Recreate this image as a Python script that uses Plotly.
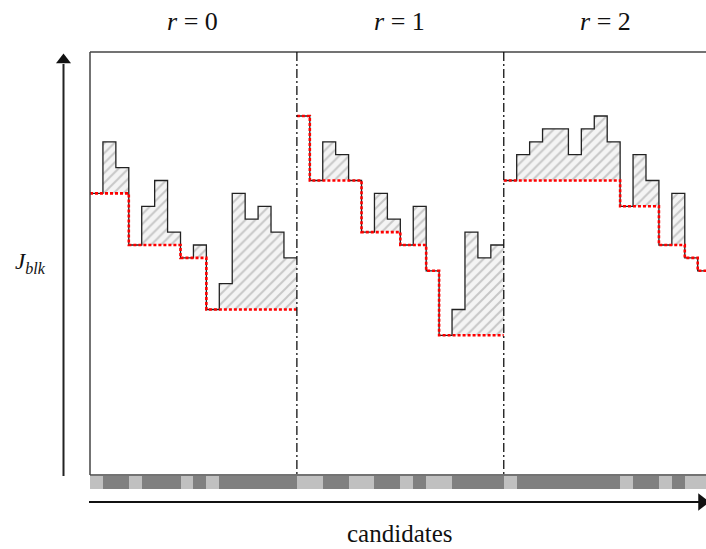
import plotly.graph_objects as go

# ---------------- data ----------------
round_labels = ["<i>r</i> = 0", "<i>r</i> = 1", "<i>r</i> = 2"]
candidates_per_round = 16
J_round0 = [24, 28, 26, 20, 23, 25, 21, 19, 20, 15, 17, 24, 22, 23, 21, 19]
J_round1 = [30, 25, 28, 27, 25, 21, 24, 22, 20, 23, 18, 13, 15, 21, 19, 20]
J_round2 = [25, 27, 28, 29, 29, 27, 29, 30, 28, 23, 27, 25, 20, 24, 19, 18]
J_rounds = [J_round0, J_round1, J_round2]
y_label = "<i>J</i><sub><i>blk</i></sub>"
x_label = "candidates"

# ---------------- geometry helpers (pixel -> data) ----------------
W, H = 706, 549
PX0, PXU = 90.0, 12.93
PY0, PYU, JREF = 116.0, 12.9, 30.0


def X(px):
    return (px - PX0) / PXU


def Y(py):
    return JREF - (py - PY0) / PYU


FONT = "Liberation Serif, Times New Roman, serif"

fig = go.Figure()

strip_colors = []
best_lines = []
for r, J in enumerate(J_rounds):
    x0 = r * candidates_per_round
    xs = list(range(x0, x0 + len(J) + 1))
    best = []
    m = None
    for v in J:
        m = v if m is None else min(m, v)
        best.append(m)
    J_ext = J + [J[-1]]
    best_ext = best + [best[-1]]
    for v, b in zip(J, best):
        strip_colors.append("#c0c0c0" if v == b else "#808080")
    fig.add_trace(go.Scatter(x=xs, y=best_ext, mode="lines",
                             line=dict(width=0, shape="hv", color="rgba(0,0,0,0)"),
                             showlegend=False, hoverinfo="skip"))
    fig.add_trace(go.Scatter(x=xs, y=J_ext, mode="lines",
                             line=dict(width=1.3, shape="hv", color="#222222"),
                             fill="tonexty", fillcolor="rgba(0,0,0,0)",
                             fillpattern=dict(shape="/", fgcolor="#999999",
                                              bgcolor="rgba(244,244,244,1)",
                                              size=7, solidity=0.28),
                             showlegend=False, hoverinfo="skip"))
    best_lines.append((xs, best_ext))

for xs, best_ext in best_lines:
    fig.add_trace(go.Scatter(x=xs, y=best_ext, mode="lines",
                             line=dict(width=2.6, shape="hv", color="#ff0000",
                                       dash="3px,2px"),
                             showlegend=False, hoverinfo="skip"))

# candidate strip
n = len(strip_colors)
fig.add_trace(go.Bar(x=[i + 0.5 for i in range(n)], y=[Y(476) - Y(489)] * n,
                     base=Y(489), width=1, marker=dict(color=strip_colors, line=dict(width=0)),
                     showlegend=False, hoverinfo="skip"))

# arrow heads
fig.add_trace(go.Scatter(x=[X(63.5)], y=[Y(60)], mode="markers",
                         marker=dict(symbol="triangle-up", size=13, color="#111111",
                                     line=dict(width=0)),
                         showlegend=False, hoverinfo="skip", cliponaxis=False))
fig.add_trace(go.Scatter(x=[X(702)], y=[Y(502)], mode="markers",
                         marker=dict(symbol="triangle-right", size=15, color="#111111",
                                     line=dict(width=0)),
                         showlegend=False, hoverinfo="skip", cliponaxis=False))

shapes = []
box_col = "#444444"
# box
shapes.append(dict(type="line", xref="x", yref="y", x0=0, x1=X(720), y0=Y(52), y1=Y(52),
                   line=dict(color=box_col, width=1.5)))
shapes.append(dict(type="line", xref="x", yref="y", x0=0, x1=X(720), y0=Y(475), y1=Y(475),
                   line=dict(color=box_col, width=1.5)))
shapes.append(dict(type="line", xref="x", yref="y", x0=0, x1=0, y0=Y(52), y1=Y(475),
                   line=dict(color=box_col, width=1.5)))
# axis arrow shafts
shapes.append(dict(type="line", xref="x", yref="y", x0=X(63.5), x1=X(63.5), y0=Y(476), y1=Y(64),
                   line=dict(color="#222222", width=2)))
shapes.append(dict(type="line", xref="x", yref="y", x0=X(89), x1=X(700), y0=Y(502), y1=Y(502),
                   line=dict(color="#111111", width=2)))
# round separators
for r in range(1, len(J_rounds)):
    xr = r * candidates_per_round
    shapes.append(dict(type="line", xref="x", yref="y", x0=xr, x1=xr, y0=Y(52), y1=Y(475),
                       line=dict(color="#111111", width=1.3, dash="9px,3px,2px,3px")))

annotations = []
for r, lab in enumerate(round_labels):
    annotations.append(dict(x=r * candidates_per_round + candidates_per_round / 2 - 0.1,
                            y=Y(21), xref="x", yref="y", text=lab, showarrow=False,
                            font=dict(family=FONT, size=26, color="#111111"),
                            xanchor="center", yanchor="middle"))
annotations.append(dict(x=X(30), y=Y(263), xref="x", yref="y", text=y_label, showarrow=False,
                        font=dict(family=FONT, size=23, color="#111111"),
                        xanchor="center", yanchor="middle"))
annotations.append(dict(x=X(400), y=Y(533), xref="x", yref="y", text=x_label, showarrow=False,
                        font=dict(family=FONT, size=25, color="#111111"),
                        xanchor="center", yanchor="middle"))

fig.update_layout(
    width=W, height=H,
    margin=dict(l=0, r=0, t=0, b=0),
    paper_bgcolor="#ffffff", plot_bgcolor="#ffffff",
    xaxis=dict(range=[X(0), X(W)], visible=False, fixedrange=True),
    yaxis=dict(range=[Y(H), Y(0)], visible=False, fixedrange=True),
    bargap=0,
    shapes=shapes,
    annotations=annotations,
    showlegend=False,
)

fig.write_html("out.html")
